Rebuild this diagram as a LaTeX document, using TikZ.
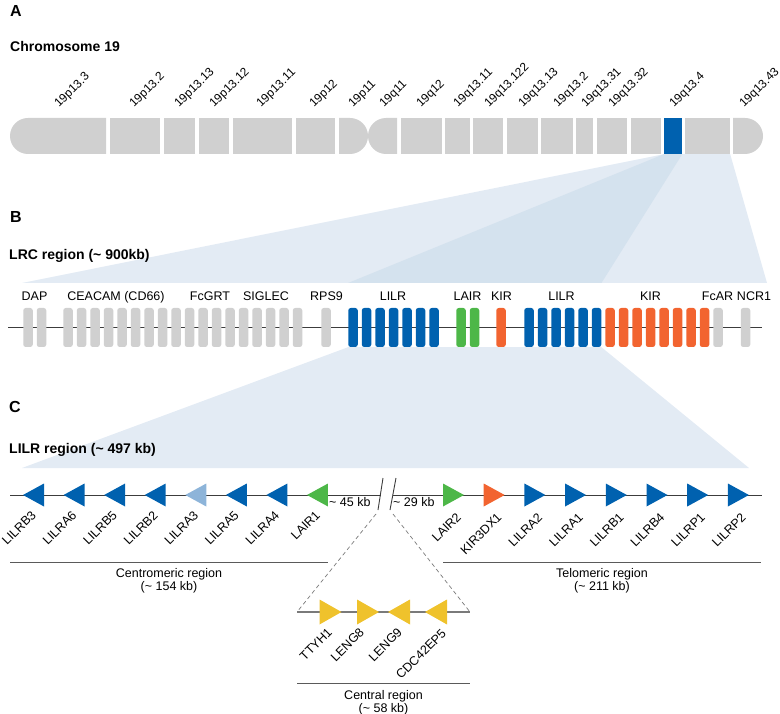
\documentclass[tikz,border=0pt]{standalone}
\usepackage{fontspec}
\setmainfont{Liberation Sans}
\usetikzlibrary{backgrounds}
\definecolor{bandgray}{HTML}{D0D0D0}
\definecolor{lrcblue}{HTML}{0061AF}
\definecolor{paleblue}{HTML}{8DB4D9}
\definecolor{lairgreen}{HTML}{4DB748}
\definecolor{kirorange}{HTML}{F26430}
\definecolor{centyellow}{HTML}{EFC22C}
\definecolor{fanlight}{HTML}{E3EBF4}
\definecolor{fandark}{HTML}{D4E2EE}
\definecolor{linegray}{HTML}{3C3C3C}
\definecolor{midgray}{HTML}{7A7A7A}
\definecolor{rulegray}{HTML}{5A5A5A}
\tikzset{
  band/.style={
    fill=bandgray,
    inner sep=0pt,
    minimum height=36pt
  },
  gene/.style={
    rounded corners=2.5pt,
    inner sep=0pt,
    minimum width=9.5pt,
    minimum height=39pt
  },
  panel/.style={
    font=\fontsize{16}{16}\selectfont\bfseries,
    inner sep=0pt,
    anchor=base west
  },
  heading/.style={
    font=\fontsize{14}{14}\selectfont\bfseries,
    inner sep=0pt,
    anchor=base west
  },
  bandlabel/.style={
    font=\fontsize{12}{12}\selectfont,
    inner sep=0pt,
    rotate=45,
    anchor=west
  },
  famlabel/.style={
    font=\fontsize{12.5}{12.5}\selectfont,
    inner sep=0pt,
    anchor=base
  },
  genelabel/.style={
    font=\fontsize{12.5}{12.5}\selectfont,
    inner sep=0pt,
    rotate=45,
    anchor=east
  },
  kblabel/.style={
    font=\fontsize{12.5}{12.5}\selectfont,
    inner sep=0pt,
    anchor=base west
  },
  region/.style={
    font=\fontsize{12.5}{11}\selectfont,
    inner sep=0pt,
    anchor=north,
    align=center
  },
  backbone/.style={draw=linegray, line width=0.9pt},
  ctrline/.style={draw=midgray, line width=1.5pt},
  regionline/.style={draw=rulegray, line width=0.7pt},
  zoomline/.style={draw=midgray, line width=0.7pt, dash pattern=on 4pt off 3pt}
}

\begin{document}
\begin{tikzpicture}[x=1pt, y=-1pt]
\useasboundingbox (0,0) rectangle (780,714);

% A: chromosome 19
\node[panel] (pA) at (10,16.5) {A};
\node[heading] (hA) at (10,52) {Chromosome 19};
\fill[bandgray] (106,118) -- (28,118) arc[start angle=270, end angle=90, radius=18] -- (106,154) -- cycle;
\fill[bandgray] (339,118) -- (350,118) arc[start angle=-90, end angle=90, radius=18] -- (339,154) -- cycle;
\fill[bandgray] (397,118) -- (386,118) arc[start angle=270, end angle=90, radius=18] -- (397,154) -- cycle;
\fill[bandgray] (733,118) -- (745,118) arc[start angle=-90, end angle=90, radius=18] -- (733,154) -- cycle;
\foreach \a/\b/\n in {110/160/p132, 164/195/p1313, 199/229/p1312, 233/292/p1311, 296/335/p12,
                      401/442/q12, 445/470/q1311, 473/503/q13122, 507/538/q1313, 541/573/q132,
                      576/593/q1331, 597/627/q1332, 631/661/q1333, 685/730/q1342}
  \node[band, minimum width={\b-\a}] (\n) at ({(\a+\b)/2},136) {};
\node[band, fill=lrcblue, minimum width=18pt] (q134) at (673,136) {};
\foreach \x/\t [count=\i] in {57/19p13.3, 132/19p13.2, 177/19p13.13, 212/19p13.12, 259/19p13.11,
                              312/19p12, 351/19p11, 382/19q11, 419/19q12, 456/19q13.11,
                              487/19q13.122, 521/19q13.13, 556/19q13.2, 584/19q13.31,
                              611/19q13.32, 672/19q13.4, 742/19q13.43}
  \node[bandlabel] (blab\i) at (\x,106) {\t};

% B: LRC region
\node[panel] (pB) at (10,223) {B};
\node[heading] (hB) at (9,259.5) {LRC region (\textasciitilde{} 900kb)};
\coordinate (lrcL) at (22,283);
\coordinate (lrcR) at (767,283);
\coordinate (lrcstart) at (8,327);
\coordinate (lrcend) at (762,327);
\draw[backbone] (lrcstart) -- (lrcend);
\foreach \x [count=\i] in {28,41.5}
  \node[gene, fill=bandgray] (dap\i) at (\x,327.5) {};
\foreach \i in {1,...,18}
  \node[gene, fill=bandgray] (mid\i) at ({54.5+13.5*\i},327.5) {};
\node[gene, fill=bandgray] (rps) at (326,327.5) {};
\foreach \i in {1,...,7}
  \node[gene, fill=lrcblue] (lilra\i) at ({339.5+13.5*\i},327.5) {};
\foreach \x [count=\i] in {461,474.5}
  \node[gene, fill=lairgreen] (lair\i) at (\x,327.5) {};
\node[gene, fill=kirorange] (kira) at (501,327.5) {};
\foreach \i in {1,...,6}
  \node[gene, fill=lrcblue] (lilrb\i) at ({515.5+13.5*\i},327.5) {};
\foreach \i in {1,...,8}
  \node[gene, fill=kirorange] (kirb\i) at ({596.5+13.5*\i},327.5) {};
\node[gene, fill=bandgray] (fcar) at (718,327.5) {};
\node[gene, fill=bandgray] (ncr) at (745.5,327.5) {};
\foreach \x/\t [count=\i] in {34.5/DAP, 116/CEACAM (CD66), 210/FcGRT, 266/SIGLEC, 326.5/RPS9,
                              393/LILR, 467.5/LAIR, 501.5/KIR, 561.5/LILR, 650.5/KIR,
                              717.5/FcAR, 754/NCR1}
  \node[famlabel] (fam\i) at (\x,300.5) {\t};

% C: LILR region
\node[panel] (pC) at (9,413) {C};
\node[heading] (hC) at (9,453.5) {LILR region (\textasciitilde{} 497 kb)};
\coordinate (lilrL) at (22,468);
\coordinate (lilrR) at (749,468);
\coordinate (cL) at (10,495);
\coordinate (brkA) at (381,495);
\coordinate (brkB) at (393,495);
\coordinate (cR) at (762,495);
\draw[backbone] (cL) -- (brkA);
\draw[backbone] (brkB) -- (cR);
\draw[backbone] (383,478) -- (378,510);
\draw[backbone] (396,478) -- (390,510);
\node[kblabel] (gapA) at (329,506.5) {\textasciitilde{} 45 kb};
\node[kblabel] (gapB) at (393,506.5) {\textasciitilde{} 29 kb};
\foreach \n/\c [count=\i from 0] in {LILRB3/lrcblue, LILRA6/lrcblue, LILRB5/lrcblue, LILRB2/lrcblue,
                                     LILRA3/paleblue, LILRA5/lrcblue, LILRA4/lrcblue, LAIR1/lairgreen}{
  \pgfmathsetmacro\cx{33.5+40.57*\i}
  \fill[\c] ({\cx-10.5},495) -- ({\cx+10.5},483.5) -- ({\cx+10.5},506.5) -- cycle;
  \node[genelabel] (\n) at ({\cx+0.3},513) {\n};
}
\foreach \n/\c [count=\i from 0] in {LAIR2/lairgreen, KIR3DX1/kirorange, LILRA2/lrcblue, LILRA1/lrcblue,
                                     LILRB1/lrcblue, LILRB4/lrcblue, LILRP1/lrcblue, LILRP2/lrcblue}{
  \pgfmathsetmacro\cx{453.5+40.7*\i}
  \fill[\c] ({\cx+10.5},495) -- ({\cx-10.5},483.5) -- ({\cx-10.5},506.5) -- cycle;
  \node[genelabel] (\n) at ({\cx+5.3},515) {\n};
}
\draw[regionline] (10,562) coordinate (cenL) -- (328,562) coordinate (cenR)
  node[region, midway, yshift=-6pt] (cen) {Centromeric region\\(\textasciitilde{} 154 kb)};
\draw[regionline] (443,562) coordinate (telL) -- (761,562) coordinate (telR)
  node[region, midway, yshift=-6pt] (tel) {Telomeric region\\(\textasciitilde{} 211 kb)};

% central region
\coordinate (brkdownA) at (376,514);
\coordinate (brkdownB) at (393,514);
\coordinate (ctrL) at (297,612);
\coordinate (ctrR) at (470,612);
\draw[zoomline] (brkdownA) -- (ctrL);
\draw[zoomline] (brkdownB) -- (ctrR);
\draw[ctrline] (ctrL) -- (ctrR);
\foreach \x/\d/\n/\lx/\ly in {330.5/11/TTYH1/330/630, 368/11/LENG8/362/630,
                              399/-11/LENG9/400/630, 436/-11/CDC42EP5/444/631}{
  \fill[centyellow] ({\x-(\d)},599.5) -- ({\x+(\d)},612) -- ({\x-(\d)},624.5) -- cycle;
  \node[genelabel] (\n) at (\lx,\ly) {\n};
}
\draw[regionline] (297,683) coordinate (ctrlineL) -- (470,683) coordinate (ctrlineR)
  node[region, midway, yshift=-7pt] (ctr) {Central region\\(\textasciitilde{} 58 kb)};

% zoom fans
\begin{scope}[on background layer]
  \fill[fanlight] (q134.south west) -- (q1342.south east) -- (lrcR) -- (lrcL) -- cycle;
  \fill[fandark] (q134.south west) -- (q134.south east) -- (lilrb6.north east |- lrcL) -- (lilra1.north west |- lrcL) -- cycle;
  \fill[fanlight] (lilra1.south west) -- (lilrb6.south east) -- (lilrR) -- (lilrL) -- cycle;
\end{scope}
\end{tikzpicture}
\end{document}
